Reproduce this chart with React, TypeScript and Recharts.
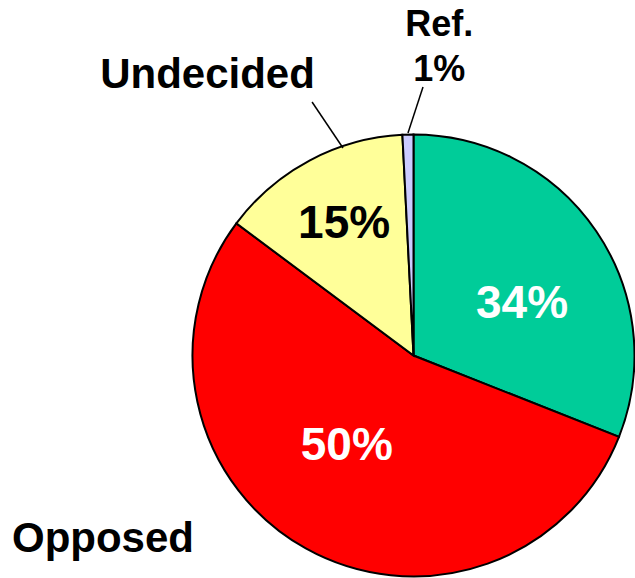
import React from 'react';
import { PieChart, Pie, Cell } from 'recharts';

// slices clockwise from 12 o'clock
const categories = ['Support', 'Opposed', 'Undecided', 'Ref.'];
const shares = [31, 54.2, 14, 0.8];
const percentLabels = ['34%', '50%', '15%', '1%'];
const calloutNames = ['', 'Opposed', 'Undecided', 'Ref.'];

const colors = ['#00CC99', '#FF0000', '#FFFF99', '#CCCCFF'];

const data = categories.map((name, i) => ({ name, value: shares[i] }));

// label placement as offsets from the pie centre, in units of the radius
const inside: Record<number, { fx: number; fy: number; fill: string }> = {
  0: { fx: 0.491, fy: -0.17, fill: '#fff' },
  1: { fx: -0.302, fy: 0.473, fill: '#fff' },
  2: { fx: -0.314, fy: -0.532, fill: '#000' },
};
const outside: Record<number, { fx: number; fy: number; size: number; pctFy?: number; line?: number[] }> = {
  1: { fx: -1.405, fy: 0.889, size: 42 },
  2: { fx: -0.932, fy: -1.21, size: 42, line: [-0.319, -0.939, -0.459, -1.147] },
  3: { fx: 0.117, fy: -1.446, size: 36, pctFy: -1.242, line: [-0.025, -1.007, 0.043, -1.215] },
};

const font = '"Liberation Sans", Arial, sans-serif';

const renderLabel = (props: any) => {
  const { cx, cy, outerRadius: r, index } = props;
  const inn = inside[index];
  const out = outside[index];
  return (
    <g key={`lbl-${index}`}>
      {inn && (
        <text x={cx + inn.fx * r} y={cy + inn.fy * r} textAnchor="middle" fill={inn.fill}
          fontFamily={font} fontWeight="bold" fontSize={46}>
          {percentLabels[index]}
        </text>
      )}
      {out && out.line && (
        <line x1={cx + out.line[0] * r} y1={cy + out.line[1] * r} x2={cx + out.line[2] * r} y2={cy + out.line[3] * r}
          stroke="#000" strokeWidth={1.5} />
      )}
      {out && (
        <text x={cx + out.fx * r} y={cy + out.fy * r} textAnchor="middle" fill="#000"
          fontFamily={font} fontWeight="bold" fontSize={out.size}>
          {calloutNames[index]}
        </text>
      )}
      {out && out.pctFy !== undefined && (
        <text x={cx + out.fx * r} y={cy + out.pctFy * r} textAnchor="middle" fill="#000"
          fontFamily={font} fontWeight="bold" fontSize={out.size}>
          {percentLabels[index]}
        </text>
      )}
    </g>
  );
};

const App: React.FC = () => {
  return (
    <div style={{ position: 'fixed', left: 0, top: 0, background: '#fff' }}>
      <PieChart width={635} height={578} margin={{ top: 0, right: 0, bottom: 0, left: 0 }}>
        <Pie
          data={data}
          dataKey="value"
          nameKey="name"
          cx={413.5}
          cy={355.5}
          outerRadius={221}
          startAngle={90}
          endAngle={-270}
          stroke="#000"
          strokeWidth={2}
          label={renderLabel}
          labelLine={false}
          isAnimationActive={false}
        >
          {data.map((d, i) => (
            <Cell key={d.name} fill={colors[i]} />
          ))}
        </Pie>
      </PieChart>
    </div>
  );
};

export default App;
